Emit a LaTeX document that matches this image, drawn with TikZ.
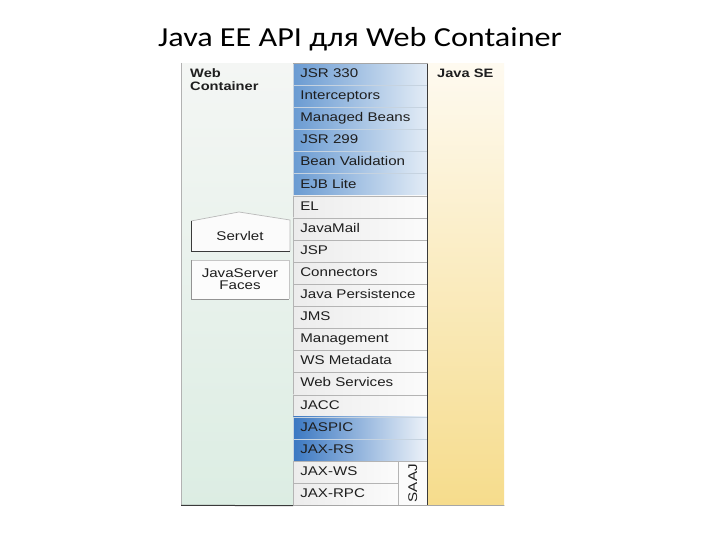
\documentclass[tikz,border=0pt]{standalone}
\usepackage{fontspec}
\setmainfont{Liberation Sans}
\newfontfamily\arl[FakeStretch=1.2]{Liberation Sans}
\newfontfamily\ttl[FakeStretch=1.17]{Carlito}
\definecolor{bA}{HTML}{6A9BD2}
\definecolor{bB}{HTML}{E3ECF6}
\definecolor{dA}{HTML}{3B78C2}
\definecolor{dM}{HTML}{8DB3DD}
\definecolor{dB}{HTML}{EEF3F9}
\definecolor{wA}{HTML}{ECECEC}
\definecolor{wB}{HTML}{FBFBFB}
\definecolor{sepb}{HTML}{C6D3E0}
\definecolor{sepw}{HTML}{B4B4B4}
\definecolor{darkc}{HTML}{3A3A3A}
\definecolor{lpTop}{HTML}{F4F6F4}
\definecolor{lpBot}{HTML}{DCEDE3}
\definecolor{jsTop}{HTML}{FEFAF0}
\definecolor{jsBot}{HTML}{F6DC8C}
\definecolor{txt}{HTML}{1E1E1E}
\begin{document}
\begin{tikzpicture}[x=1pt,y=-1pt,
  stackrow/.style={draw=sepb, line width=0.6pt, anchor=north west,
    minimum height=22.1pt, inner xsep=7pt, inner ysep=0pt,
    text width=120pt, align=left, text height=9pt, text depth=2.6pt,
    font=\arl\fontsize{12.6}{14}\selectfont, text=txt},
  bluerow/.style={stackrow, left color=bA, right color=bB},
  darkrow/.style={stackrow, left color=dA, middle color=dM, right color=dB},
  whiterow/.style={stackrow, draw=sepw, left color=wA, right color=wB},
  boxtext/.style={font=\arl\fontsize{12.6}{14}\selectfont, text=txt, align=center, inner sep=0pt},
  headtext/.style={font=\arl\bfseries\fontsize{12.2}{13}\selectfont, text=txt, align=left, inner sep=0pt}
]
\useasboundingbox (0,0) rectangle (720,540);
\fill[white] (0,0) rectangle (720,540);

% title
\node[font=\ttl\fontsize{27.5}{30}\selectfont, text=black, anchor=base, inner sep=0pt] (title) at (360,46.7) {Java EE API для Web Container};

% panels
\node[anchor=north west, minimum width=112pt, minimum height=442pt, inner sep=0pt,
  top color=lpTop, bottom color=lpBot] (lp) at (181,63) {};
\node[anchor=north west, minimum width=77pt, minimum height=442pt, inner sep=0pt,
  top color=jsTop, bottom color=jsBot] (js) at (427,63) {};
\draw[color=gray!60, line width=0.6pt] (lp.north west) -- (lp.south west);

\node[headtext, anchor=base west] (wc) at (190,78) {Web};
\node[headtext, anchor=base west] (wc2) at (190,91) {Container};
\node[headtext, anchor=base west] (jse) at (437,78) {Java SE};

% servlet box
\fill[white!60!lpTop] (191,251) -- (191,221) -- (239,212) -- (290,220) -- (290,251) -- cycle;
\draw[color=gray!55, line width=0.7pt] (191,221) -- (239,212) -- (290,220) -- (290,251);
\draw[color=darkc, line width=0.9pt] (191,221) -- (191,251) -- (290,251);
\node[boxtext] (sv) at (240,236) {Servlet};

% JSF box
\fill[white!70!lpTop] (191,260) rectangle (289,299);
\draw[color=gray!45, line width=0.7pt] (191,260) -- (289,260) -- (289,299);
\draw[color=gray!85, line width=0.9pt] (191,260) -- (191,299) -- (289,299);
\node[boxtext] (jsf) at (240,279) {JavaServer\\[-1.5pt]Faces};

% stack rows
\foreach \t [count=\i from 1] in {JSR 330,Interceptors,Managed Beans,JSR 299,Bean Validation,EJB Lite}
  \node[bluerow] (r\i) at (293,{63+(\i-1)*22.1}) {\t};
\foreach \t [count=\i from 7] in {EL,JavaMail,JSP,Connectors,Java Persistence,JMS,Management,WS Metadata,Web Services,JACC}
  \node[whiterow] (r\i) at (293,{63+(\i-1)*22.1}) {\t};
\foreach \t [count=\i from 17] in {JASPIC,JAX-RS}
  \node[darkrow] (r\i) at (293,{63+(\i-1)*22.1}) {\t};
\foreach \t [count=\i from 19] in {JAX-WS,JAX-RPC}
  \node[whiterow, text width=91pt] (r\i) at (293,{63+(\i-1)*22.1}) {\t};
\node[whiterow, anchor=north west, text width={}, minimum width=29pt, minimum height=44.2pt,
  inner xsep=0pt, text height=, text depth=, left color=wB, right color=wB] (saaj) at (398,{63+18*22.1}) {};
\node[boxtext, rotate=90] (saajt) at (saaj.center) {SAAJ};

% borders
\draw[color=darkc, line width=1pt] (r1.north east) -- (saaj.south east);
\draw[color=gray!70, line width=0.6pt] (r1.north west) -- (r1.north east);
\draw[color=darkc, line width=1pt] (lp.south west) -- (r20.south west);
\draw[color=gray!70, line width=0.7pt] (r20.south west) -- (js.south east);
\end{tikzpicture}
\end{document}
